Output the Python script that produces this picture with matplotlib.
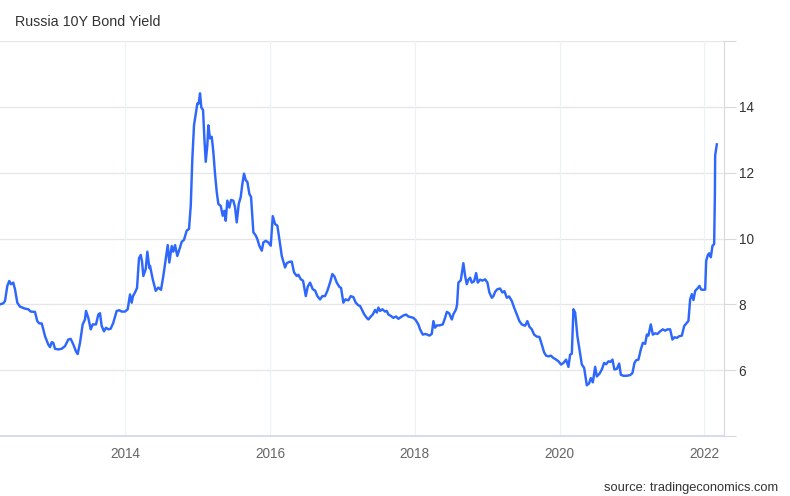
import matplotlib
matplotlib.use("Agg")
import matplotlib.pyplot as plt

plt.rcParams["font.family"] = ["Liberation Sans", "DejaVu Sans"]

# ---------------------------------------------------------------- data
# decimal year, yield in %
years = [
    2012.269, 2012.314, 2012.338, 2012.370, 2012.397, 2012.421, 2012.452, 2012.476,
    2012.508, 2012.545, 2012.614, 2012.660, 2012.693, 2012.752, 2012.784, 2012.812,
    2012.845, 2012.867, 2012.891, 2012.936, 2012.960, 2012.983, 2013.005, 2013.029,
    2013.074, 2013.121, 2013.167, 2013.212, 2013.246, 2013.282, 2013.319, 2013.342,
    2013.374, 2013.411, 2013.443, 2013.457, 2013.489, 2013.522, 2013.550, 2013.595,
    2013.627, 2013.650, 2013.674, 2013.706, 2013.733, 2013.765, 2013.798, 2013.834,
    2013.881, 2013.917, 2013.950, 2013.996, 2014.033, 2014.065, 2014.088, 2014.106,
    2014.134, 2014.162, 2014.189, 2014.213, 2014.231, 2014.249, 2014.282, 2014.304,
    2014.332, 2014.341, 2014.379, 2014.420, 2014.456, 2014.493, 2014.525, 2014.558,
    2014.586, 2014.608, 2014.641, 2014.663, 2014.687, 2014.718, 2014.756, 2014.779,
    2014.811, 2014.848, 2014.880, 2014.904, 2014.926, 2014.949, 2014.977, 2014.995,
    2015.014, 2015.032, 2015.050, 2015.074, 2015.092, 2015.111, 2015.133, 2015.147,
    2015.170, 2015.194, 2015.216, 2015.239, 2015.263, 2015.285, 2015.318, 2015.346,
    2015.368, 2015.387, 2015.409, 2015.437, 2015.460, 2015.492, 2015.516, 2015.539,
    2015.567, 2015.594, 2015.617, 2015.640, 2015.664, 2015.686, 2015.713, 2015.737,
    2015.769, 2015.802, 2015.824, 2015.851, 2015.885, 2015.907, 2015.940, 2015.976,
    2016.009, 2016.037, 2016.068, 2016.100, 2016.128, 2016.161, 2016.183, 2016.207,
    2016.230, 2016.266, 2016.299, 2016.331, 2016.368, 2016.390, 2016.424, 2016.455,
    2016.493, 2016.520, 2016.552, 2016.589, 2016.621, 2016.653, 2016.690, 2016.722,
    2016.759, 2016.791, 2016.828, 2016.860, 2016.888, 2016.921, 2016.957, 2016.980,
    2017.012, 2017.040, 2017.081, 2017.114, 2017.150, 2017.183, 2017.219, 2017.243,
    2017.266, 2017.302, 2017.335, 2017.358, 2017.391, 2017.418, 2017.450, 2017.474,
    2017.496, 2017.519, 2017.551, 2017.588, 2017.612, 2017.634, 2017.667, 2017.703,
    2017.740, 2017.772, 2017.805, 2017.841, 2017.878, 2017.910, 2017.943, 2017.979,
    2018.012, 2018.048, 2018.072, 2018.109, 2018.141, 2018.173, 2018.200, 2018.233,
    2018.256, 2018.279, 2018.303, 2018.338, 2018.385, 2018.417, 2018.441, 2018.473,
    2018.510, 2018.532, 2018.569, 2018.583, 2018.601, 2018.634, 2018.670, 2018.694,
    2018.717, 2018.739, 2018.763, 2018.786, 2018.818, 2018.846, 2018.869, 2018.901,
    2018.933, 2018.970, 2019.002, 2019.029, 2019.063, 2019.085, 2019.108, 2019.140,
    2019.177, 2019.209, 2019.237, 2019.270, 2019.302, 2019.339, 2019.371, 2019.408,
    2019.444, 2019.477, 2019.523, 2019.554, 2019.582, 2019.615, 2019.647, 2019.684,
    2019.720, 2019.753, 2019.785, 2019.813, 2019.845, 2019.878, 2019.914, 2019.951,
    2019.983, 2020.020, 2020.052, 2020.089, 2020.121, 2020.144, 2020.168, 2020.190,
    2020.214, 2020.245, 2020.273, 2020.306, 2020.338, 2020.375, 2020.407, 2020.430,
    2020.458, 2020.490, 2020.513, 2020.549, 2020.582, 2020.614, 2020.642, 2020.674,
    2020.701, 2020.729, 2020.756, 2020.790, 2020.822, 2020.845, 2020.881, 2020.928,
    2020.973, 2021.005, 2021.033, 2021.056, 2021.088, 2021.121, 2021.149, 2021.181,
    2021.204, 2021.226, 2021.259, 2021.287, 2021.319, 2021.351, 2021.388, 2021.425,
    2021.457, 2021.489, 2021.526, 2021.558, 2021.586, 2021.619, 2021.650, 2021.688,
    2021.720, 2021.757, 2021.779, 2021.802, 2021.826, 2021.848, 2021.872, 2021.903,
    2021.931, 2021.954, 2021.986, 2022.010, 2022.024, 2022.047, 2022.065, 2022.088,
    2022.111, 2022.134, 2022.144, 2022.148, 2022.171,
]
yields = [
    8.00, 8.03, 8.10, 8.56, 8.71, 8.61, 8.66, 8.46,
    8.05, 7.93, 7.87, 7.85, 7.78, 7.77, 7.49, 7.42,
    7.42, 7.24, 7.03, 6.78, 6.70, 6.85, 6.83, 6.65,
    6.63, 6.65, 6.73, 6.93, 6.95, 6.78, 6.57, 6.49,
    6.83, 7.39, 7.54, 7.80, 7.59, 7.24, 7.39, 7.39,
    7.69, 7.73, 7.34, 7.18, 7.29, 7.24, 7.26, 7.44,
    7.80, 7.82, 7.78, 7.78, 7.85, 8.30, 8.05, 8.25,
    8.36, 8.50, 9.40, 9.50, 9.30, 8.86, 9.07, 9.60,
    9.10, 9.17, 8.76, 8.41, 8.51, 8.44, 8.86, 9.37,
    9.80, 9.27, 9.77, 9.60, 9.80, 9.47, 9.73, 9.90,
    9.96, 10.24, 10.29, 11.00, 12.43, 13.44, 13.85, 14.10,
    14.10, 14.41, 13.98, 13.90, 13.04, 12.33, 12.84, 13.44,
    13.04, 13.09, 12.63, 11.97, 11.41, 11.05, 10.99, 10.69,
    10.84, 10.54, 11.15, 10.94, 11.17, 11.15, 10.95, 10.49,
    11.05, 11.26, 11.66, 11.97, 11.77, 11.72, 11.36, 11.26,
    10.19, 10.09, 9.98, 9.78, 9.63, 9.88, 9.93, 9.88,
    9.78, 10.68, 10.44, 10.39, 9.98, 9.47, 9.30, 9.12,
    9.25, 9.29, 9.30, 8.97, 8.86, 8.90, 8.76, 8.72,
    8.25, 8.54, 8.66, 8.46, 8.42, 8.25, 8.15, 8.25,
    8.25, 8.41, 8.66, 8.92, 8.85, 8.66, 8.53, 8.50,
    8.05, 8.15, 8.12, 8.25, 8.22, 8.05, 7.97, 7.95,
    7.85, 7.69, 7.59, 7.54, 7.63, 7.69, 7.83, 7.75,
    7.90, 7.80, 7.85, 7.78, 7.80, 7.69, 7.65, 7.59,
    7.63, 7.56, 7.61, 7.66, 7.69, 7.63, 7.61, 7.59,
    7.52, 7.39, 7.24, 7.08, 7.10, 7.08, 7.05, 7.10,
    7.49, 7.29, 7.36, 7.36, 7.39, 7.59, 7.77, 7.73,
    7.54, 7.70, 7.85, 8.00, 8.66, 8.73, 9.25, 8.86,
    8.61, 8.75, 8.81, 8.66, 8.70, 8.95, 8.66, 8.75,
    8.72, 8.76, 8.66, 8.36, 8.20, 8.25, 8.38, 8.46,
    8.48, 8.36, 8.40, 8.20, 8.24, 8.10, 7.90, 7.69,
    7.49, 7.39, 7.35, 7.49, 7.32, 7.24, 7.08, 7.02,
    7.01, 6.78, 6.54, 6.44, 6.42, 6.44, 6.37, 6.32,
    6.27, 6.17, 6.22, 6.32, 6.10, 6.47, 6.50, 7.85,
    7.75, 7.03, 6.63, 6.17, 6.07, 5.54, 5.60, 5.76,
    5.63, 6.10, 5.81, 5.89, 6.02, 6.22, 6.18, 6.27,
    6.25, 6.32, 6.02, 6.04, 6.20, 5.86, 5.83, 5.83,
    5.85, 5.91, 6.22, 6.30, 6.32, 6.63, 6.83, 6.80,
    7.08, 7.05, 7.39, 7.08, 7.12, 7.10, 7.18, 7.24,
    7.20, 7.24, 7.24, 6.93, 7.00, 6.98, 7.03, 7.05,
    7.34, 7.44, 7.50, 8.15, 8.31, 8.13, 8.41, 8.48,
    8.56, 8.45, 8.44, 8.45, 9.32, 9.50, 9.55, 9.43,
    9.78, 9.83, 11.31, 12.53, 12.86,
]

x_ticks = [2014, 2016, 2018, 2020, 2022]
y_ticks = [4, 6, 8, 10, 12, 14, 16]
y_labels = ["", "6", "8", "10", "12", "14", ""]

TITLE = "Russia 10Y Bond Yield"
SOURCE = "source: tradingeconomics.com"

LINE_COLOR = "#2e67fb"
GRID_H = "#e6e6e6"
GRID_V = "#eef1f6"


# ---------------------------------------------------------------- figure
fig = plt.figure(figsize=(7.9, 4.96), dpi=100)
ax = fig.add_axes([0.0, 1 - 436 / 496, 724 / 790, (436 - 41) / 496])

ax.plot(years, yields, color=LINE_COLOR, lw=1.75, solid_joinstyle="round", zorder=3)

ax.set_xlim(2012.269, 2022.27)
ax.set_ylim(4, 16)

ax.set_xticks(x_ticks)
ax.set_xticklabels([str(t) for t in x_ticks])
ax.set_yticks(y_ticks)
ax.set_yticklabels(y_labels)

ax.yaxis.tick_right()
ax.tick_params(axis="y", length=8.5, width=0.8, color="#d9d9d9",
               labelsize=9.8, labelcolor="#333333", pad=2)
ax.tick_params(axis="x", length=0, labelsize=9.8, labelcolor="#666666", pad=8)

for y in y_ticks[1:]:
    ax.axhline(y, color=GRID_H, lw=0.9, zorder=1)
for x in x_ticks:
    ax.axvline(x, color=GRID_V, lw=0.9, zorder=1)

for side in ("left", "top"):
    ax.spines[side].set_visible(False)
ax.spines["right"].set_color("#d9d9d9")
ax.spines["right"].set_linewidth(0.8)
ax.spines["bottom"].set_color("#ccd6eb")
ax.spines["bottom"].set_linewidth(1.2)

fig.text(15 / 790, 1 - 22 / 496, TITLE, fontsize=10.3, color="#333333",
         ha="left", va="center")
fig.text(778 / 790, 1 - 488 / 496, SOURCE, fontsize=9.3, color="#333333",
         ha="right", va="center")

fig.savefig("out.png", dpi=100, facecolor="white")
